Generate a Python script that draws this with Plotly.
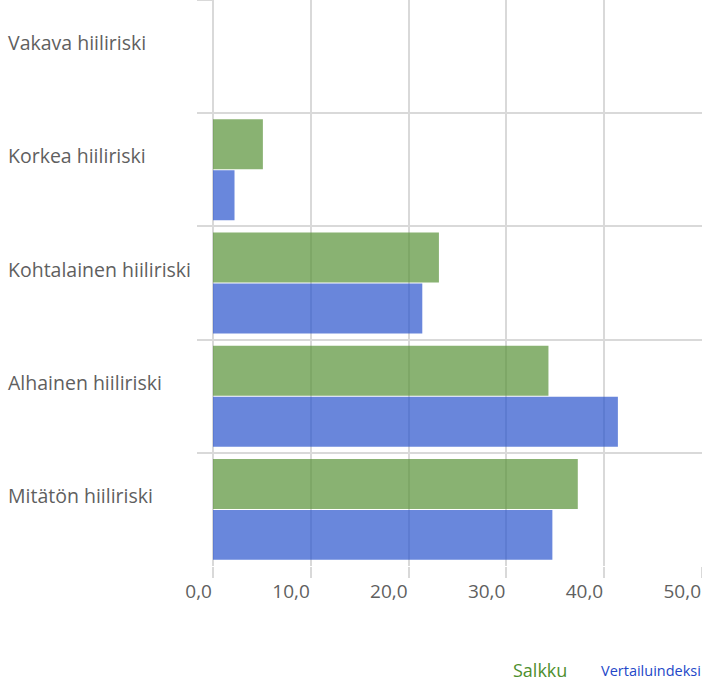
import plotly.graph_objects as go

categories = ["Vakava hiiliriski", "Korkea hiiliriski", "Kohtalainen hiiliriski",
              "Alhainen hiiliriski", "Mitätön hiiliriski"]
salkku = [0.0, 5.1, 23.1, 34.3, 37.3]
vertailu = [0.0, 2.2, 21.4, 41.4, 34.7]
series_names = ["Salkku", "Vertailuindeksi"]
x_ticks = [0, 10, 20, 30, 40, 50]

FONT = "Open Sans"
GRID = "#d9d9d9"
TEXT = "#5f5f5f"
green = "rgb(88,146,55)"
blue = "rgb(42,84,205)"

fig = go.Figure()
fig.add_trace(go.Bar(y=categories, x=salkku, orientation="h", name=series_names[0],
                     marker=dict(color=green, line=dict(width=0)), opacity=0.7,
                     showlegend=False))
fig.add_trace(go.Bar(y=categories, x=vertailu, orientation="h", name=series_names[1],
                     marker=dict(color=blue, line=dict(width=0)), opacity=0.7,
                     showlegend=False))

for c in categories:
    fig.add_annotation(x=0, xref="paper", xshift=-207, y=c, yref="y", yshift=14,
                       text=c, showarrow=False, xanchor="left", yanchor="middle",
                       font=dict(family=FONT, size=19.5, color=TEXT))

fig.add_annotation(x=1, xref="paper", xshift=-133, y=0, yref="paper", yshift=-104,
                   text=series_names[0], showarrow=False, xanchor="right",
                   yanchor="middle",
                   font=dict(family=FONT, size=18, color="#4e8f2e"))
fig.add_annotation(x=1, xref="paper", xshift=1, y=0, yref="paper", yshift=-104,
                   text=series_names[1], showarrow=False, xanchor="right",
                   yanchor="middle",
                   font=dict(family=FONT, size=14.5, color="#2347c8"))

fig.update_layout(
    width=702, height=681,
    margin=dict(l=213, r=0, t=0, b=115, autoexpand=False),
    barmode="group", bargap=0.1, bargroupgap=0.02,
    plot_bgcolor="white", paper_bgcolor="white",
    separators=",.",
    font=dict(family=FONT, color=TEXT),
    xaxis=dict(range=[0, 50], tickvals=x_ticks, tickformat=".1f",
               showgrid=True, gridcolor=GRID, gridwidth=2,
               zeroline=True, zerolinecolor=GRID, zerolinewidth=2,
               ticks="outside", ticklen=11, tickcolor=GRID, tickwidth=2,
               ticklabelposition="outside left", ticklabelstandoff=8,
               tickfont=dict(family=FONT, size=19, color=TEXT),
               showline=False, fixedrange=True),
    yaxis=dict(autorange="reversed", tickson="boundaries", showgrid=True,
               gridcolor=GRID, gridwidth=2, ticks="outside", ticklen=15,
               tickcolor=GRID, tickwidth=2, showticklabels=False, showline=False,
               fixedrange=True),
)

fig.write_html("out.html", config={"displayModeBar": False},
               post_script="document.body.style.margin='0';document.body.style.overflow='hidden';")
